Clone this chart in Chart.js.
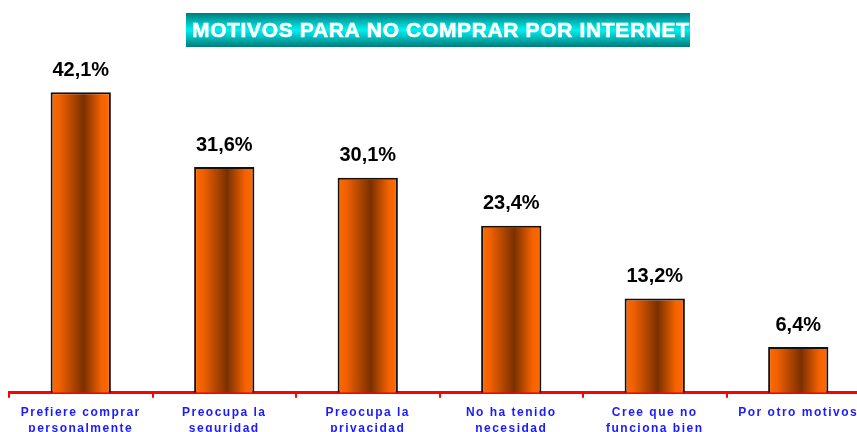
<!DOCTYPE html>
<html>
<head>
<meta charset="utf-8">
<script src="https://cdn.jsdelivr.net/npm/chart.js@4.4.1/dist/chart.umd.min.js"></script>
<style>
	html, body { margin: 0; padding: 0; background: #ffffff; overflow: hidden; }
	#wrap { position: relative; width: 870px; height: 445px; }
</style>
</head>
<body>
<div id="wrap"><canvas id="chart"></canvas></div>
<script>
// Chart data
const title = 'MOTIVOS PARA NO COMPRAR POR INTERNET';
const categories = [
	['Prefiere comprar', 'personalmente'],
	['Preocupa la', 'seguridad'],
	['Preocupa la', 'privacidad'],
	['No ha tenido', 'necesidad'],
	['Cree que no', 'funciona bien'],
	['Por otro motivos']
];
const values = [42.1, 31.6, 30.1, 23.4, 13.2, 6.4];

const BAR_PCT = 0.42;

// Horizontal orange-brown gradient for each bar
function barGradient(context) {
	const chart = context.chart;
	const xScale = chart.scales.x;
	if (!xScale || context.type !== 'data') return '#ff6600';
	const cx = xScale.getPixelForValue(context.dataIndex);
	const half = (xScale.width / categories.length) * BAR_PCT / 2;
	if (!isFinite(cx) || !isFinite(half) || half <= 0) return '#ff6600';
	const g = chart.ctx.createLinearGradient(cx - half, 0, cx + half, 0);
	g.addColorStop(0, '#ff6a00');
	g.addColorStop(0.15, '#f06000');
	g.addColorStop(0.55, '#7a3000');
	g.addColorStop(0.85, '#f56200');
	g.addColorStop(1, '#ff6a00');
	return g;
}

// Title box and value labels
const decorations = {
	id: 'decorations',
	beforeDraw(chart) {
		const ctx = chart.ctx;
		ctx.save();
		const g = ctx.createLinearGradient(0, 13, 0, 47);
		g.addColorStop(0, '#007a7a');
		g.addColorStop(0.5, '#00f0f0');
		g.addColorStop(1, '#007a7a');
		ctx.fillStyle = g;
		ctx.fillRect(186, 13, 504, 34);
		ctx.fillStyle = '#ffffff';
		ctx.strokeStyle = '#ffffff';
		ctx.lineWidth = 0.6;
		ctx.font = 'bold 21px Arial, "Liberation Sans", sans-serif';
		ctx.textBaseline = 'middle';
		ctx.textAlign = 'left';
		const w = ctx.measureText(title).width;
		const sp = (497 - w) / (title.length - 1);
		ctx.letterSpacing = sp + 'px';
		ctx.fillText(title, 192, 31);
		ctx.strokeText(title, 192, 31);
		ctx.restore();
		ctx.letterSpacing = '1.5px';
	},
	afterDatasetsDraw(chart) {
		const ctx = chart.ctx;
		const meta = chart.getDatasetMeta(0);
		ctx.save();
		ctx.letterSpacing = '0px';
		ctx.fillStyle = '#000000';
		ctx.font = 'bold 20px Arial, "Liberation Sans", sans-serif';
		ctx.textAlign = 'center';
		ctx.textBaseline = 'middle';
		meta.data.forEach((bar, i) => {
			ctx.fillText(values[i].toFixed(1).replace('.', ',') + '%', bar.x, bar.y - 22);
		});
		ctx.restore();
	}
};

new Chart(document.getElementById('chart').getContext('2d'), {
	type: 'bar',
	data: {
		labels: categories,
		datasets: [{
			data: values,
			backgroundColor: barGradient,
			borderColor: '#111111',
			borderWidth: 2,
			borderSkipped: 'bottom',
			barPercentage: BAR_PCT,
			categoryPercentage: 1
		}]
	},
	options: {
		responsive: true,
		maintainAspectRatio: false,
		animation: false,
		layout: { padding: { top: 50, left: 9, right: 0, bottom: 2 } },
		plugins: {
			legend: { display: false },
			tooltip: { enabled: false }
		},
		scales: {
			x: {
				offset: true,
				grid: {
					offset: true,
					drawOnChartArea: false,
					drawTicks: true,
					tickLength: 5,
					color: '#ff0000',
					lineWidth: 2
				},
				border: { color: '#ff0000', width: 3 },
				ticks: {
					color: '#1a1aff',
					padding: 7,
					maxRotation: 0,
					autoSkip: false,
					font: { family: 'Arial, "Liberation Sans", sans-serif', size: 12, weight: 'bold', lineHeight: 1.3 }
				}
			},
			y: {
				display: false,
				min: 0,
				max: 48
			}
		}
	},
	plugins: [decorations]
});
</script>
</body>
</html>
